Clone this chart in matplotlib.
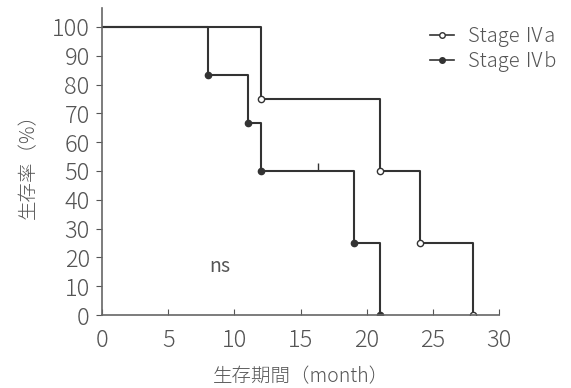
import matplotlib
matplotlib.use('Agg')
import matplotlib.pyplot as plt

plt.rcParams['font.family'] = ['Noto Sans CJK JP', 'DejaVu Sans']

# Kaplan-Meier steps
a_time = [0, 12, 21, 24, 28]
a_surv = [100, 75, 50, 25, 0]
b_time = [0, 8, 11, 12, 19, 21]
b_surv = [100, 83.3, 66.7, 50, 25, 0]
b_cens_time = [16.3]
b_cens_surv = [50]

xticks = [0, 5, 10, 15, 20, 25, 30]
yticks = list(range(0, 101, 10))

line_c = '#333333'
text_c = '#555555'

fig = plt.figure(figsize=(5.71, 3.88), dpi=100)
ax = fig.add_axes([0.179, 0.188, 0.695, 0.791])

ax.step(a_time, a_surv, where='post', color=line_c, lw=1.5)
ax.plot(a_time[1:], a_surv[1:], 'o', ms=4.5, mfc='white', mec=line_c, mew=1.0)
ax.step(b_time, b_surv, where='post', color=line_c, lw=1.5)
ax.plot(b_time[1:], b_surv[1:], 'o', ms=4.5, mfc=line_c, mec=line_c)
ax.plot(b_cens_time, b_cens_surv, marker=[(0, 0), (0, 1)], ms=12, color=line_c,
        ls='none', mew=1.0)

# legend handles
ax.plot([], [], '-o', color=line_c, ms=4, mfc='white', lw=1.2, label='Stage Ⅳa')
ax.plot([], [], '-o', color=line_c, ms=4, mfc=line_c, lw=1.2, label='Stage Ⅳb')
handles, labels = ax.get_legend_handles_labels()
ax.legend(handles[-2:], labels[-2:], loc='upper right', bbox_to_anchor=(1.19, 1.0),
          frameon=False, prop={'size': 14.5, 'weight': 'light'}, labelcolor=text_c,
          handlelength=1.2, handletextpad=0.7, labelspacing=0.2)

ax.text(8.9, 17, 'ns', fontsize=14, color=text_c, ha='center', va='center')

ax.set_xlim(0, 30)
ax.set_ylim(0, 106.5)
ax.set_xticks(xticks)
ax.set_yticks(yticks)
ax.tick_params(axis='x', direction='in', length=4, colors=text_c, labelsize=17, pad=9)
ax.tick_params(axis='y', direction='out', length=4, colors=text_c, labelsize=17, pad=5)
for lab in ax.get_xticklabels() + ax.get_yticklabels():
    lab.set_fontweight('light')
ax.spines['top'].set_visible(False)
ax.spines['right'].set_visible(False)
ax.spines['bottom'].set_bounds(0, 30)
for s in ['left', 'bottom']:
    ax.spines[s].set_color('#666666')
    ax.spines[s].set_linewidth(1.2)

ax.set_xlabel('生存期間（month）', fontsize=14, color=text_c, labelpad=10,
              fontweight='light')
ax.set_ylabel('生存率（%）', fontsize=14, color=text_c, labelpad=9,
              fontweight='light')

fig.savefig('out.png', dpi=100)
